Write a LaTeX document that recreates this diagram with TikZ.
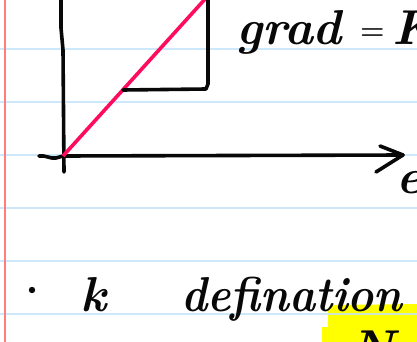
\documentclass[tikz,border=0pt]{standalone}
\definecolor{ruled}{RGB}{196,228,250}
\definecolor{margin}{RGB}{255,125,125}
\definecolor{ink}{RGB}{8,8,8}
\definecolor{slope}{RGB}{255,12,95}
\definecolor{marker}{RGB}{255,255,0}
\usepackage{tikz}
\usetikzlibrary{calc}
\tikzset{
  pen/.style={ink,line width=3.6pt,line cap=round,line join=round},
  hand/.style={ink,inner sep=0pt,anchor=base west,font=\fontsize{49}{60}\selectfont\bfseries\itshape}
}

\begin{document}
\begin{tikzpicture}[x=1pt,y=-1pt]
        \useasboundingbox (0,0) rectangle (417,342);
        \clip (0,0) rectangle (417,342);
        \fill[white] (0,0) rectangle (417,342);
        % highlighter
        \fill[marker] (336,305) .. controls (329,305) .. (328,312) -- (328,327) -- (322,327)
          -- (322,342) -- (417,342) -- (417,304) -- cycle;
        % paper
        \foreach \y in {49,102,...,314}
          \draw[ruled,line width=1.4pt,opacity=0.85] (0,\y) -- (417,\y);
        \draw[margin,line width=1.4pt] (5,0) -- (5,342);
        % axes
        \coordinate (O) at (63,156);
        \coordinate (top) at (61,-2);
        \coordinate (tip) at (403,155);
        \draw[pen] (top) -- (61,28) -- (63,50) -- (64,172);
        \draw[pen] (39,156) .. controls (46,155) and (50,159) .. (56,158) -- (O) -- (tip);
        \draw[pen] (380,146) -- (tip) -- (376,172);
        % gradient line and triangle
        \coordinate (P) at (206,-2);
        \draw[slope,line width=3.6pt] (O) -- (P);
        \draw[pen] (208,-2) -- (208,84) -- (206,89) -- (123,90);
        % labels
        \node[hand] (grad) at (236,45) {grad};
        \node[hand,font=\fontsize{28}{34}\selectfont\bfseries] (eq) at (360,40) {=};
        \node[hand] (kk) at (392,45) {K};
        \node[hand] (eaxis) at (396,193) {e};
        \fill[ink] (32,290) circle (3.2);
        \node[hand] (k) at (80,311) {k};
        \node[hand,xscale=0.9] (defn) at (181,311) {defination};
        \node[hand] (N) at (350,364) {N};
      \end{tikzpicture}
\end{document}
